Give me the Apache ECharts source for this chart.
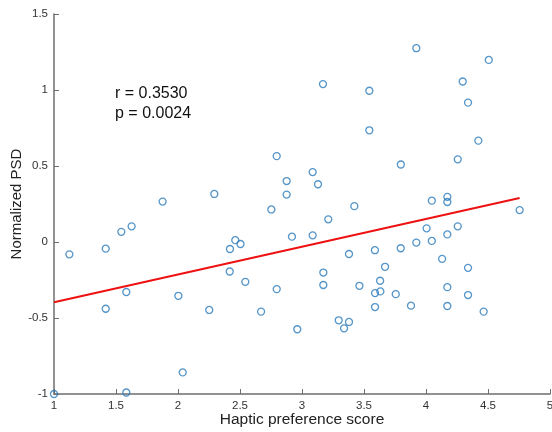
<!DOCTYPE html>
<html>
<head>
<meta charset="utf-8">
<script src="https://cdn.jsdelivr.net/npm/echarts@6/dist/echarts.min.js"></script>
<style>html,body{margin:0;padding:0;background:#fff}#c{width:552px;height:432px}</style>
</head>
<body>
<div id="c"></div>
<script>
const xValues = [1.0,1.124,1.417,1.417,1.543,1.583,1.583,1.626,1.876,2.003,2.038,2.252,2.293,2.419,2.417,2.462,2.504,2.543,2.670,2.753,2.796,2.796,2.876,2.876,2.919,2.962,3.086,3.086,3.129,3.169,3.172,3.172,3.212,3.296,3.339,3.379,3.379,3.422,3.463,3.543,3.543,3.588,3.589,3.589,3.630,3.632,3.670,3.756,3.797,3.796,3.879,3.922,3.922,4.005,4.047,4.047,4.130,4.172,4.172,4.172,4.172,4.172,4.256,4.256,4.296,4.339,4.339,4.339,4.422,4.465,4.506,4.755];
const yValues = [-1.0,-0.081,-0.044,-0.439,0.067,-0.329,-0.99,0.103,0.266,-0.354,-0.858,-0.447,0.316,-0.046,-0.194,0.012,-0.013,-0.262,-0.458,0.214,0.565,-0.310,0.401,0.312,0.035,-0.574,0.460,0.044,0.380,1.039,-0.201,-0.283,0.149,-0.515,-0.568,-0.526,-0.079,0.236,-0.288,0.995,0.735,-0.054,-0.336,-0.428,-0.255,-0.325,-0.163,-0.343,0.510,-0.041,-0.419,1.275,-0.004,0.090,0.272,0.007,-0.111,0.297,0.263,0.050,-0.297,-0.421,0.544,0.103,1.056,0.917,-0.170,-0.349,0.667,-0.458,1.198,0.210];
const fitX = [1.0, 4.755];
const fitY = [-0.397, 0.290];
const statLines = ['r = 0.3530', 'p = 0.0024'];
const xTitle = 'Haptic preference score';
const yTitle = 'Normalized PSD';

const points = xValues.map((x, i) => [x, yValues[i]]);
const fitLine = fitX.map((x, i) => [x, fitY[i]]);

const chart = echarts.init(document.getElementById('c'), null, {renderer: 'canvas'});
const axisCol = '#6e6e6e';
const font = 'Liberation Sans, Arial, Helvetica, sans-serif';
chart.setOption({
  animation: false,
  backgroundColor: '#ffffff',
  grid: {left: 54, right: 2, top: 14, bottom: 38, containLabel: false, outerBoundsMode: 'none'},
  xAxis: {
    type: 'value', min: 1, max: 5, interval: 0.5,
    name: xTitle, nameLocation: 'middle', nameGap: 18, nameMoveOverlap: false,
    nameTextStyle: {fontFamily: font, fontSize: 15.5, color: '#222'},
    axisLine: {show: true, onZero: false, lineStyle: {color: axisCol, width: 1.5}},
    axisTick: {show: true, inside: true, length: 5, lineStyle: {color: axisCol, width: 1}},
    axisLabel: {fontFamily: font, fontSize: 11.5, color: '#333', margin: 6, showMinLabel: true, showMaxLabel: true},
    splitLine: {show: false}
  },
  yAxis: {
    type: 'value', min: -1, max: 1.5, interval: 0.5,
    name: yTitle, nameLocation: 'middle', nameGap: 30, nameRotate: 90, nameMoveOverlap: false,
    nameTextStyle: {fontFamily: font, fontSize: 15, color: '#222'},
    axisLine: {show: true, onZero: false, lineStyle: {color: axisCol, width: 1.5}},
    axisTick: {show: true, inside: true, length: 5, lineStyle: {color: axisCol, width: 1}},
    axisLabel: {fontFamily: font, fontSize: 11.5, color: '#333', margin: 6, showMinLabel: true, showMaxLabel: true},
    splitLine: {show: false}
  },
  series: [
    {
      type: 'scatter', data: points, symbol: 'circle', symbolSize: 7,
      itemStyle: {color: 'rgba(255,255,255,0)', borderColor: '#2b7bba', borderWidth: 1.3},
      z: 3
    },
    {
      type: 'line', data: fitLine, symbol: 'none',
      lineStyle: {color: '#ee1111', width: 2},
      z: 2
    }
  ],
  graphic: [
    {type: 'text', left: 115, top: 84, style: {text: statLines.join('\n'), font: '16px ' + font, fill: '#111', lineHeight: 20}}
  ]
});
</script>
</body>
</html>
